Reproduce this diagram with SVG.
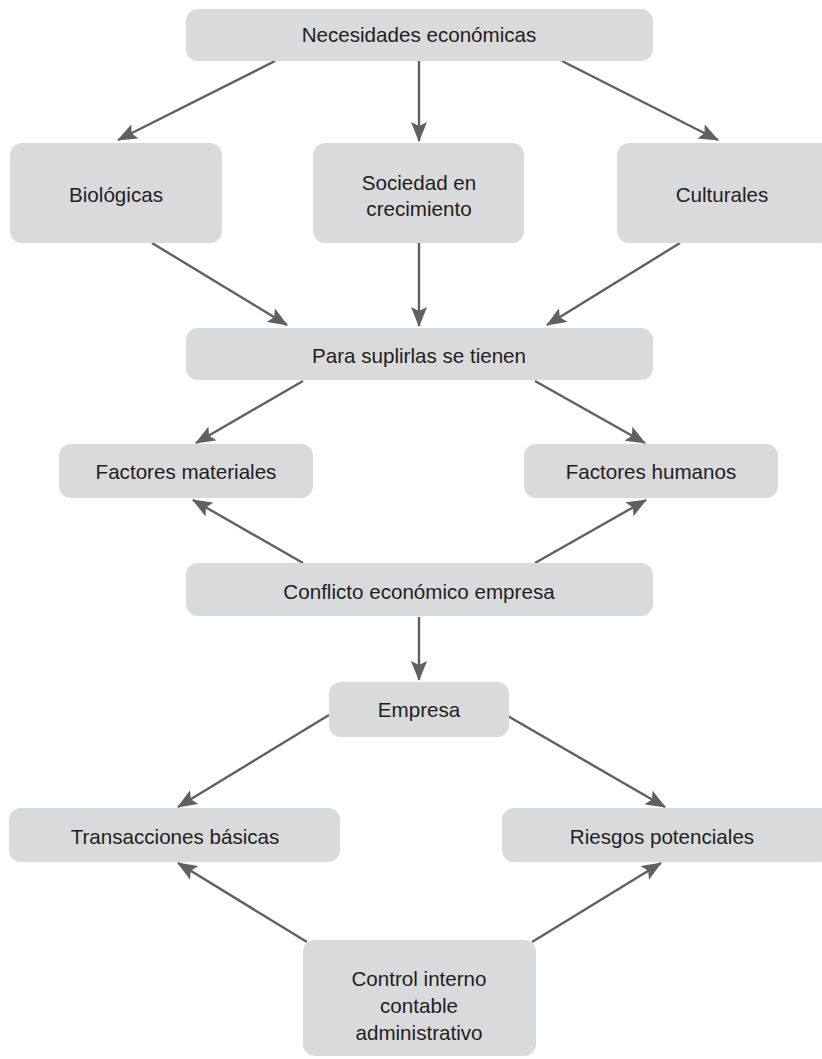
<svg xmlns="http://www.w3.org/2000/svg" width="822" height="1059" viewBox="0 0 822 1059">
<style>
.box{fill:#d9dadb;}
.t{font-family:"Liberation Sans",Arial,sans-serif;font-size:20.6px;fill:#231f20;text-anchor:middle;dominant-baseline:central;}
.c{stroke:#5f6062;stroke-width:2.4;fill:none;marker-end:url(#ah);}
</style>
<defs>
<marker id="ah" markerUnits="userSpaceOnUse" viewBox="0 0 20 16" markerWidth="20" markerHeight="16" refX="19" refY="8" orient="auto">
<path d="M0,0 L20,8 L0,16 L4,8 Z" fill="#5f6062"/>
</marker>
</defs>
<rect width="822" height="1059" fill="#ffffff"/>
<g id="connectors">
<line class="c" x1="275" y1="61" x2="118" y2="140"/>
<line class="c" x1="419" y1="61" x2="419" y2="141"/>
<line class="c" x1="562" y1="61" x2="718" y2="140"/>
<line class="c" x1="152" y1="243" x2="287" y2="325"/>
<line class="c" x1="419" y1="243" x2="419" y2="326"/>
<line class="c" x1="680" y1="243" x2="547" y2="325"/>
<line class="c" x1="303" y1="381" x2="196" y2="443"/>
<line class="c" x1="535" y1="381" x2="645" y2="443"/>
<line class="c" x1="303" y1="563" x2="193" y2="500"/>
<line class="c" x1="535" y1="563" x2="646" y2="500"/>
<line class="c" x1="419" y1="617" x2="419" y2="680"/>
<line class="c" x1="329" y1="715" x2="178" y2="807"/>
<line class="c" x1="506" y1="715" x2="665" y2="807"/>
<line class="c" x1="307" y1="942" x2="178" y2="863"/>
<line class="c" x1="532" y1="942" x2="661" y2="863"/>
</g>
<g id="n1"><rect class="box" x="186" y="9" width="467" height="52" rx="12"/><text class="t" x="419" y="34">Necesidades económicas</text></g>
<g id="n2"><rect class="box" x="10" y="143" width="212" height="100" rx="12"/><text class="t" x="116" y="194">Biológicas</text></g>
<g id="n3"><rect class="box" x="313" y="143" width="211" height="100" rx="12"/><text class="t" x="419" y="182">Sociedad en</text><text class="t" x="419" y="208">crecimiento</text></g>
<g id="n4"><rect class="box" x="617" y="143" width="215" height="100" rx="12"/><text class="t" x="722" y="194">Culturales</text></g>
<g id="n5"><rect class="box" x="186" y="328" width="467" height="52" rx="12"/><text class="t" x="419" y="355">Para suplirlas se tienen</text></g>
<g id="n6"><rect class="box" x="59" y="444" width="254" height="54" rx="12"/><text class="t" x="186" y="471">Factores materiales</text></g>
<g id="n7"><rect class="box" x="524" y="444" width="254" height="54" rx="12"/><text class="t" x="651" y="471">Factores humanos</text></g>
<g id="n8"><rect class="box" x="186" y="563" width="467" height="53" rx="12"/><text class="t" x="419" y="591">Conflicto económico empresa</text></g>
<g id="n9"><rect class="box" x="329" y="682" width="180" height="55" rx="12"/><text class="t" x="419" y="709">Empresa</text></g>
<g id="n10"><rect class="box" x="9" y="808" width="331" height="54" rx="12"/><text class="t" x="175" y="836">Transacciones básicas</text></g>
<g id="n11"><rect class="box" x="502" y="808" width="330" height="54" rx="12"/><text class="t" x="662" y="836">Riesgos potenciales</text></g>
<g id="n12"><rect class="box" x="303" y="940" width="233" height="116" rx="12"/><text class="t" x="419" y="978">Control interno</text><text class="t" x="419" y="1005">contable</text><text class="t" x="419" y="1032">administrativo</text></g>
</svg>
